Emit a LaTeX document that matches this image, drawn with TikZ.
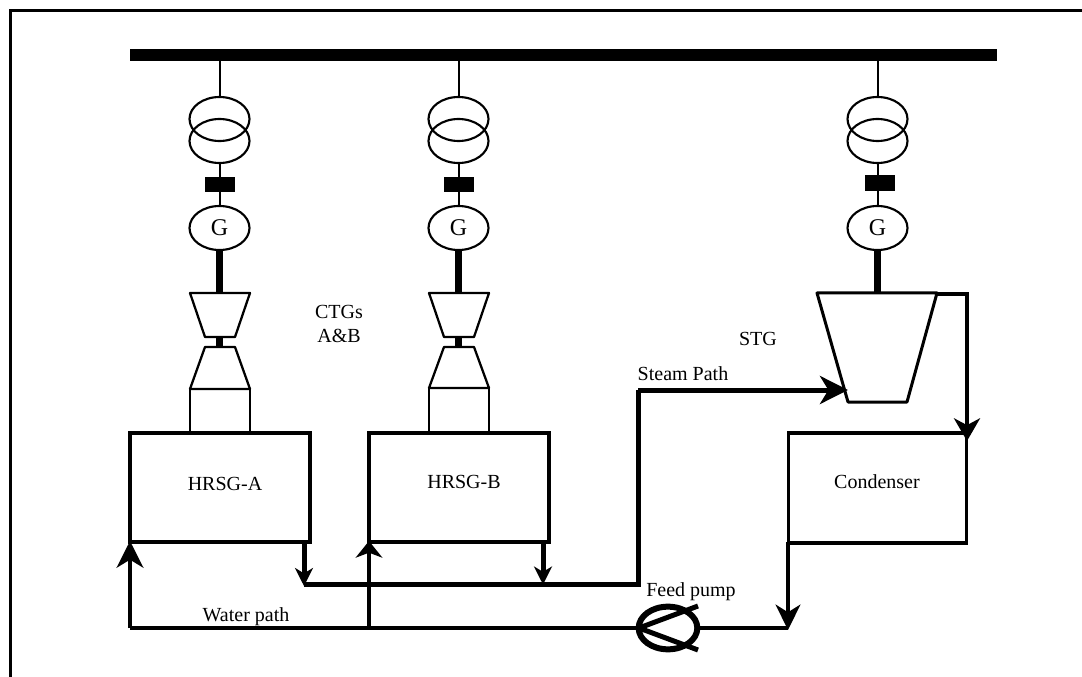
\documentclass[tikz,border=0pt]{standalone}
\usepackage{fontspec}
\setmainfont{Liberation Serif}
\usetikzlibrary{arrows.meta,shapes.geometric}
\tikzset{
  label text/.style={font=\fontsize{15}{18}\selectfont,inner sep=0pt,anchor=base},
  busbar/.style={fill=black,draw=none,minimum width=650.25pt,minimum height=8.5pt,inner sep=0pt,outer sep=0pt},
  winding/.style={ellipse,draw,line width=1.6pt,minimum width=45pt,minimum height=33pt,inner sep=0pt,outer sep=0pt},
  breaker/.style={fill=black,draw=none,minimum width=22.5pt,minimum height=11.5pt,inner sep=0pt,outer sep=0pt},
  gen/.style={winding,font=\fontsize{18}{20}\selectfont},
  duct/.style={draw,line width=1.6pt,minimum width=45pt,minimum height=33pt,inner sep=0pt,outer sep=0pt},
  hrsg/.style={draw,line width=3pt,minimum width=135pt,minimum height=81.75pt,inner sep=0pt,outer sep=0pt},
  thin link/.style={line width=1.5pt},
  shaft/.style={line width=5.6pt},
  turbine/.style={line width=1.7pt,line join=round},
  water/.style={line width=3pt,line join=miter},
  steam/.style={line width=3.75pt,line join=miter},
  flowtip/.style 2 args={-{Stealth[length=#1,width=#2,inset=0.3*#1]}},
}
\begin{document}
\begin{tikzpicture}[x=0.75pt,y=-0.75pt]
  \useasboundingbox (0,0) rectangle (1082,677);
  \draw[line width=2.25pt] (10.5,677) -- (10.5,10.5) -- (1082,10.5);
  % bus
  \node[busbar] (bus) at (563.5,55) {};
  \coordinate (busA) at (219.5,55);
  \coordinate (busB) at (458.5,55);
  \coordinate (busS) at (877.5,55);
  % CTG A
  \node[winding] (xfA1) at (219.5,119) {};
  \node[winding] (xfA2) at (219.5,141) {};
  \node[breaker] (brkA) at (220,184.5) {};
  \node[gen] (genA) at (219.5,228) {G};
  \draw[thin link] (busA) -- (xfA1.north);
  \draw[thin link] (xfA2.south) -- (genA.north);
  \coordinate (topA) at (219.5,293);
  \coordinate (midA1) at (219.5,337);
  \coordinate (midA2) at (219.5,347);
  \draw[shaft] (genA.south) -- (topA);
  \draw[shaft] (midA1) -- (midA2);
  \draw[turbine] (190,293) -- (250,293) -- (235,337) -- (205,337) -- cycle;
  \draw[turbine] (205,347) -- (235,347) -- (250,389) -- (190,389) -- cycle;
  \node[duct] (ductA) at (220,411) {};
  \node[hrsg] (hrsgA) at (220,487.5) {};
  \node[label text] (lblA) at (225,490) {HRSG-A};
  % CTG B
  \node[winding] (xfB1) at (458.5,119) {};
  \node[winding] (xfB2) at (458.5,141) {};
  \node[breaker] (brkB) at (459,184.5) {};
  \node[gen] (genB) at (458.5,228) {G};
  \draw[thin link] (busB) -- (xfB1.north);
  \draw[thin link] (xfB2.south) -- (genB.north);
  \coordinate (topB) at (458.5,293);
  \coordinate (midB1) at (458.5,337);
  \coordinate (midB2) at (458.5,347);
  \draw[shaft] (genB.south) -- (topB);
  \draw[shaft] (midB1) -- (midB2);
  \draw[turbine] (429,293) -- (489,293) -- (474,337) -- (444,337) -- cycle;
  \draw[turbine] (444,347) -- (474,347) -- (489,388) -- (429,388) -- cycle;
  \node[duct,minimum height=33.75pt] (ductB) at (459,410.5) {};
  \node[hrsg] (hrsgB) at (459,487.5) {};
  \node[label text] (lblB) at (464,488) {HRSG-B};
  % STG
  \node[winding] (xfS1) at (877.5,119) {};
  \node[winding] (xfS2) at (877.5,141) {};
  \node[breaker] (brkS) at (880,183) {};
  \node[gen] (genS) at (877.5,228) {G};
  \draw[thin link] (busS) -- (xfS1.north);
  \draw[thin link] (xfS2.south) -- (genS.north);
  \coordinate (topS) at (877.5,293);
  \draw[shaft] (genS.south) -- (topS);
  \draw[line width=2.25pt,line join=round] (817,293) -- (937,293) -- (907,402) -- (848,402) -- cycle;
  \node[hrsg,line width=2.6pt,minimum width=133.5pt,minimum height=82.5pt] (cond) at (877.5,488) {};
  \node[label text] (lblC) at (877,488) {Condenser};
  % steam path
  \coordinate (outA) at (304,542);
  \coordinate (jA) at (304,586);
  \coordinate (outB) at (543,542);
  \coordinate (jB) at (543,584.5);
  \coordinate (riserLow) at (638,584.5);
  \coordinate (riserTop) at (638,390);
  \coordinate (stgIn) at (848,390);
  \draw[steam,flowtip={13.5pt}{13.5pt}] (outA) -- (jA);
  \draw[steam,flowtip={13.5pt}{13.5pt}] (outB) -- (jB);
  \draw[steam] (jA |- riserLow) -- (riserLow) -- (riserTop);
  \draw[steam,flowtip={21pt}{21pt}] (riserTop) -- (stgIn);
  % exhaust to condenser
  \coordinate (stgOut) at (937,294.5);
  \coordinate (exBend) at (967,294.5);
  \coordinate (condIn) at (967,441);
  \draw[water,flowtip={17pt}{19.5pt}] (stgOut) -- (exBend) -- (condIn);
  % water path
  \node[ellipse,draw,line width=4.5pt,minimum width=44pt,minimum height=32pt,inner sep=0pt,outer sep=0pt] (pump) at (668,628) {};
  \coordinate (pumpNose) at (639,628);
  \coordinate (pumpUp) at (698,606);
  \coordinate (pumpDn) at (698,650);
  \draw[line width=3.75pt,line join=miter] (pumpUp) -- (pumpNose) -- (pumpDn);
  \coordinate (condOut) at (788,542);
  \coordinate (pumpIn) at (788,630);
  \coordinate (teeB) at (369,628);
  \coordinate (cornerA) at (130,628);
  \coordinate (inA) at (130,541);
  \coordinate (inB) at (369,541);
  \draw[water,flowtip={19pt}{18.5pt}] (condOut) -- (pumpIn);
  \draw[water] (pumpIn |- pump) -- (pump.east);
  \draw[water] (pump.west) -- (cornerA);
  \draw[steam,line width=3.2pt,flowtip={20pt}{20pt}] (cornerA) -- (inA);
  \draw[steam,line width=3.2pt,flowtip={12.5pt}{20pt}] (teeB) -- (inB);
  % labels
  \node[label text,align=center] (ctgs) at (339,343) {CTGs\\[0pt]A\&B};
  \node[label text] (stg) at (758,345) {STG};
  \node[label text] (steamlbl) at (683,381) {Steam Path};
  \node[label text] (waterlbl) at (246,621) {Water path};
  \node[label text] (feedlbl) at (691,596) {Feed pump};
\end{tikzpicture}
\end{document}
